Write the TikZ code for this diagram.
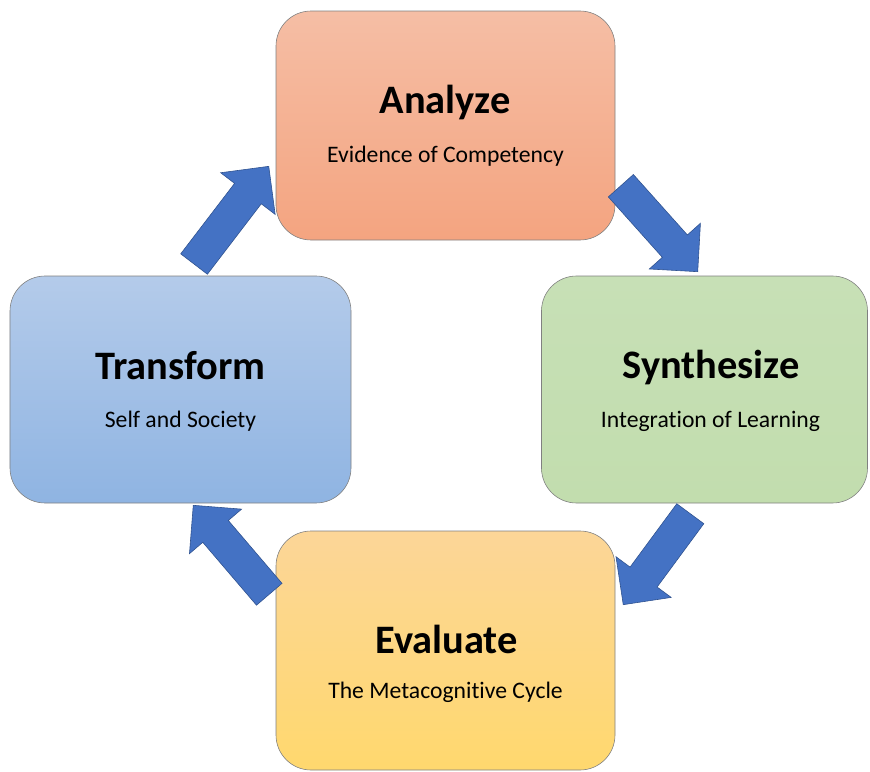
\documentclass[tikz,border=0pt]{standalone}
\usepackage{fontspec}
\setmainfont{Carlito}[Ligatures=NoCommon]
\usetikzlibrary{shapes.arrows}
\definecolor{arrowblue}{RGB}{68,114,196}
\definecolor{arrowedge}{RGB}{47,82,143}
\definecolor{boxedge}{RGB}{128,128,128}
\tikzset{
	stage/.style={draw=boxedge, line width=0.5pt, rounded corners=10.5mm, inner sep=0pt},
	cyclearrow/.style={single arrow, draw=arrowedge, line width=0.5pt, fill=arrowblue, inner xsep=0pt, inner ysep=4.95mm,
		single arrow head extend=5.25mm, single arrow tip angle=90, anchor=tip},
	stagetitle/.style={anchor=base, font=\fontsize{34.5}{38}\selectfont\bfseries},
	stagesub/.style={anchor=base, font=\fontsize{20.2}{24}\selectfont}
}
\begin{document}
\begin{tikzpicture}[x=0.3mm,y=-0.3mm]
		\useasboundingbox (0,0) rectangle (870,772);
		%stages
		\node[stage, minimum width=101.7mm, minimum height=68.7mm, top color={rgb,255:red,245;green,190;blue,165}, bottom color={rgb,255:red,244;green,164;blue,128}] (analyze) at (445.5,125.5) {};
		\node[stage, minimum width=97.8mm, minimum height=68.1mm, top color={rgb,255:red,199;green,224;blue,182}, bottom color={rgb,255:red,194;green,221;blue,174}] (synthesize) at (704.5,389.5) {};
		\node[stage, minimum width=101.7mm, minimum height=71.7mm, top color={rgb,255:red,252;green,214;blue,152}, bottom color={rgb,255:red,255;green,216;blue,110}] (evaluate) at (445.5,650.5) {};
		\node[stage, minimum width=102.3mm, minimum height=68.1mm, top color={rgb,255:red,180;green,203;blue,234}, bottom color={rgb,255:red,143;green,180;blue,226}] (transform) at (180.5,389.5) {};
		%labels
		\node[stagetitle] (analyzetitle) at (445,113) {Analyze};
		\node[stagesub] (analyzesub) at (445.5,162) {Evidence of Competency};
		\node[stagetitle] (synthesizetitle) at (711,378) {Synthesize};
		\node[stagesub] (synthesizesub) at (710.5,427) {Integration of Learning};
		\node[stagetitle] (evaluatetitle) at (446.5,653) {Evaluate};
		\node[stagesub] (evaluatesub) at (445.5,698) {The Metacognitive Cycle};
		\node[stagetitle] (transformtitle) at (180.5,379) {Transform};
		\node[stagesub] (transformsub) at (180.5,427) {Self and Society};
		%arrows
		\node[cyclearrow, minimum height=36.9mm, rotate=52.6] (toanalyze) at (269,166) {};
		\node[cyclearrow, minimum height=34.6mm, rotate=-48.2] (tosynthesize) at (698,272) {};
		\node[cyclearrow, minimum height=33.9mm, rotate=233.6] (toevaluate) at (623,605) {};
		\node[cyclearrow, minimum height=35.1mm, rotate=130.5] (totransform) at (193,505) {};
	\end{tikzpicture}
\end{document}
